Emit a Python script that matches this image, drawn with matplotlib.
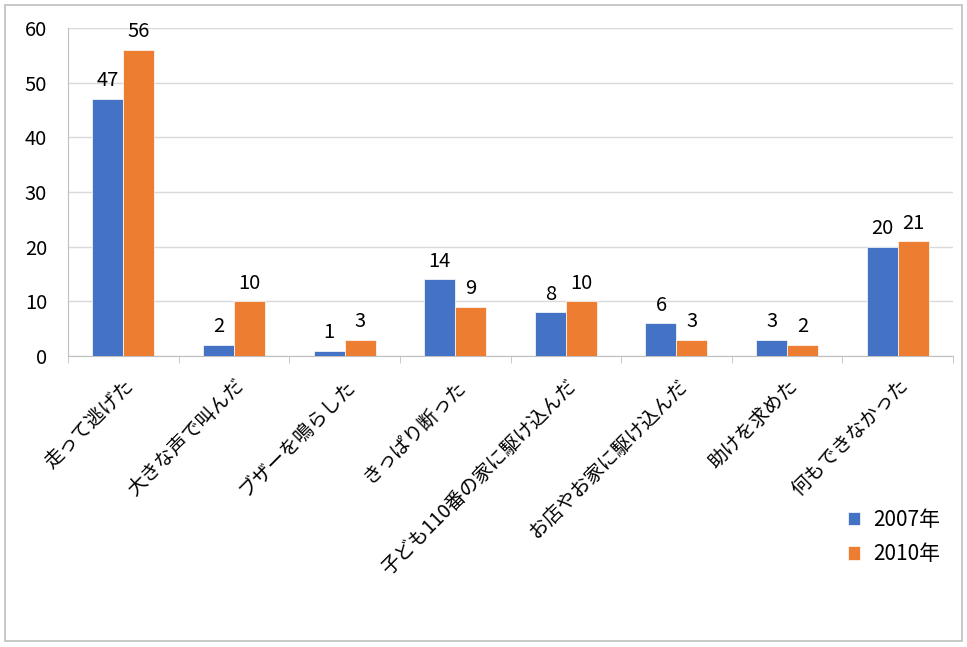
import matplotlib
matplotlib.use('Agg')
import matplotlib.pyplot as plt
import numpy as np

plt.rcParams['font.family'] = ['Noto Sans CJK JP', 'DejaVu Sans']

categories = ['走って逃げた', '大きな声で叫んだ', 'ブザーを鳴らした', 'きっぱり断った',
              '子ども110番の家に駆け込んだ', 'お店やお家に駆け込んだ', '助けを求めた', '何もできなかった']
v2007 = [47, 2, 1, 14, 8, 6, 3, 20]
v2010 = [56, 10, 3, 9, 10, 3, 2, 21]
series_names = ['2007年', '2010年']
colors = ['#4472c4', '#ed7d31']
yticks = [0, 10, 20, 30, 40, 50, 60]

fig = plt.figure(figsize=(9.67, 6.47), dpi=100)
fig.patches.append(plt.Rectangle((0.005, 0.01), 0.99, 0.982, transform=fig.transFigure,
                                 fill=False, edgecolor='#bfbfbf', linewidth=1.2))
ax = fig.add_axes([68/967, 1-356/647, (953-68)/967, (356-28)/647])

x = np.arange(len(categories))
w = 0.28
b1 = ax.bar(x - w/2, v2007, w, color=colors[0], label=series_names[0], zorder=3,
            edgecolor='white', linewidth=0.5)
b2 = ax.bar(x + w/2, v2010, w, color=colors[1], label=series_names[1], zorder=3,
            edgecolor='white', linewidth=0.5)

for bars, vals in [(b1, v2007), (b2, v2010)]:
    for r, v in zip(bars, vals):
        ax.text(r.get_x() + r.get_width()/2, v + 1.4, str(v), ha='center', va='bottom',
                fontsize=14.5)

ax.set_xlim(-0.5, len(categories) - 0.5)
ax.set_ylim(0, 60)
ax.set_yticks(yticks)
ax.set_yticklabels([str(t) for t in yticks], fontsize=14.5)
ax.yaxis.grid(True, color='#d9d9d9', linewidth=1, zorder=0)
ax.tick_params(axis='y', length=0, pad=15)

ax.set_xticks(np.arange(len(categories) + 1) - 0.5, minor=True)
ax.set_xticks(x)
ax.set_xticklabels(categories, rotation=45, ha='right', va='top', rotation_mode='anchor',
                   fontsize=14)
ax.tick_params(axis='x', which='major', length=0, pad=14)
ax.tick_params(axis='x', which='minor', length=5, color='#bfbfbf')

for s in ['top', 'right']:
    ax.spines[s].set_visible(False)
ax.spines['left'].set_color('#bfbfbf')
ax.spines['bottom'].set_color('#bfbfbf')

leg = fig.legend(handles=[b1, b2], labels=series_names, loc='upper left',
                 bbox_to_anchor=(829/967, 1-490/647), frameon=False, fontsize=15,
                 handlelength=0.6, handleheight=0.6, handletextpad=0.6, labelspacing=0.6)

fig.savefig('out.png', dpi=100)
